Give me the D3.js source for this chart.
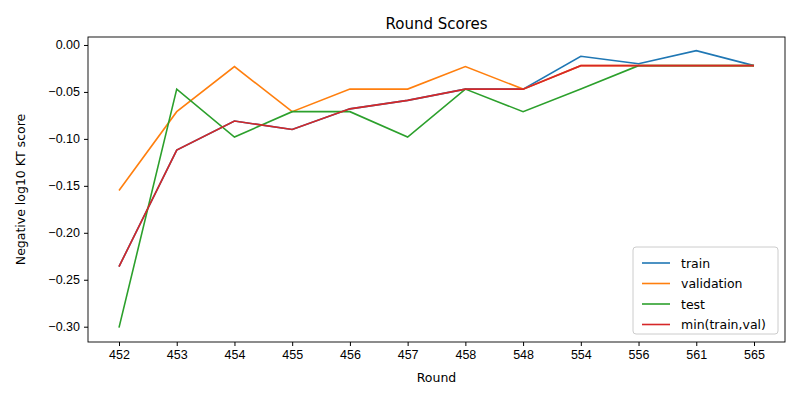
<!DOCTYPE html>
<html><head><meta charset="utf-8">
<script src="https://d3js.org/d3.v7.min.js"></script>
<style>body{margin:0;background:#fff}svg{font-family:"DejaVu Sans",sans-serif}</style>
</head><body><svg id="c" width="800" height="400"></svg>
<script>
const rounds = ["452","453","454","455","456","457","458","548","554","556","561","565"];
const train = [-0.236,-0.112,-0.081,-0.090,-0.068,-0.059,-0.047,-0.047,-0.012,-0.020,-0.006,-0.022];
const validation = [-0.155,-0.071,-0.023,-0.071,-0.047,-0.047,-0.023,-0.047,-0.022,-0.022,-0.022,-0.022];
const test = [-0.301,-0.047,-0.098,-0.071,-0.071,-0.098,-0.047,-0.071,-0.047,-0.022,-0.022,-0.022];
const minTV = train.map((v,i)=>Math.min(v,validation[i]));
const yTicks = [0,-0.05,-0.10,-0.15,-0.20,-0.25,-0.30];
const series = [
 {name:"train", values:train, color:"#1f77b4"},
 {name:"validation", values:validation, color:"#ff7f0e"},
 {name:"test", values:test, color:"#2ca02c"},
 {name:"min(train,val)", values:minTV, color:"#d62728"}];

const svg = d3.select("#c");
const L=88,R=785,T=37,B=342;
const x = d3.scalePoint().domain(rounds).range([119,754]);
const y = d3.scaleLinear().domain([-0.3163,0.0085]).range([B,T]);

svg.append("g").attr("transform",`translate(0,${B})`)
 .call(d3.axisBottom(x).tickSize(4).tickPadding(4))
 .call(g=>{g.select(".domain").remove();g.selectAll("text").attr("font-size",12.5).attr("fill","#000");});
svg.append("g").attr("transform",`translate(${L},0)`)
 .call(d3.axisLeft(y).tickValues(yTicks).tickFormat(d3.format(".2f")).tickSize(4).tickPadding(4))
 .call(g=>{g.select(".domain").remove();g.selectAll("text").attr("font-size",12.5).attr("fill","#000");});

const line = d3.line().x((d,i)=>x(rounds[i])).y(d=>y(d));
series.forEach(s=>svg.append("path").attr("d",line(s.values)).attr("fill","none")
 .attr("stroke",s.color).attr("stroke-width",1.6));

svg.append("rect").attr("x",L).attr("y",T).attr("width",R-L).attr("height",B-T)
 .attr("fill","none").attr("stroke","#000").attr("stroke-width",0.9);

svg.append("text").attr("x",(L+R)/2).attr("y",29).attr("text-anchor","middle").attr("font-size",15).text("Round Scores");
svg.append("text").attr("x",(L+R)/2).attr("y",382).attr("text-anchor","middle").attr("font-size",12.5).text("Round");
svg.append("text").attr("transform",`translate(25,${(T+B)/2}) rotate(-90)`).attr("text-anchor","middle").attr("font-size",12.5).text("Negative log10 KT score");

const lg = svg.append("g");
lg.append("rect").attr("x",633).attr("y",247).attr("width",145).attr("height",87).attr("rx",3)
 .attr("fill","#fff").attr("fill-opacity",0.8).attr("stroke","#ccc");
series.forEach((s,i)=>{
 const yy=263+i*20.5;
 lg.append("line").attr("x1",642).attr("x2",670).attr("y1",yy).attr("y2",yy).attr("stroke",s.color).attr("stroke-width",1.6);
 lg.append("text").attr("x",681).attr("y",yy+4.5).attr("font-size",12.5).text(s.name);
});
</script></body></html>
